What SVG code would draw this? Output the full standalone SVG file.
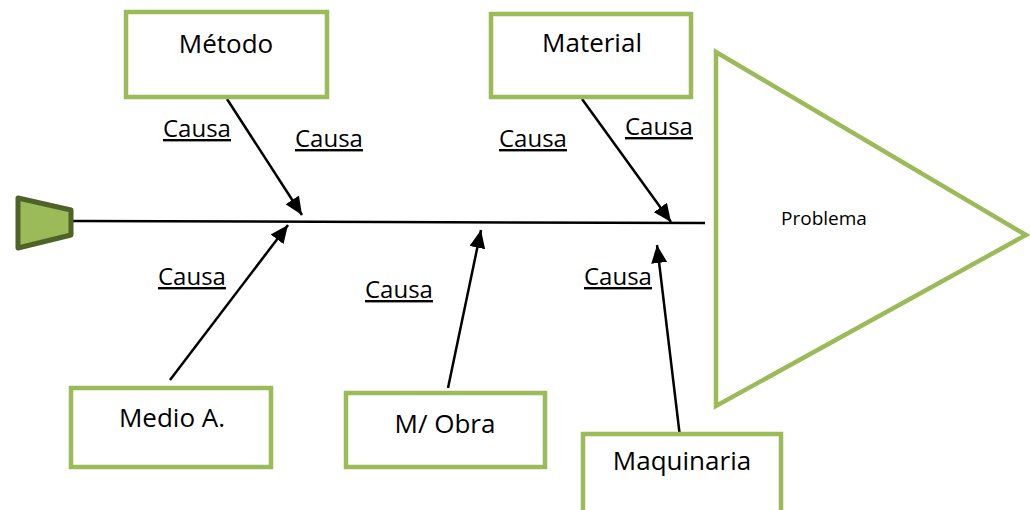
<svg xmlns="http://www.w3.org/2000/svg" width="1030" height="510" viewBox="0 0 1030 510">
<style>
.box{fill:#fff;stroke:#9BBB59;stroke-width:4.5}
.lbl{font-family:"Open Sans","Liberation Sans",sans-serif;font-size:26px;fill:#000;text-anchor:middle}
.causa{font-family:"Open Sans","Liberation Sans",sans-serif;font-size:24px;fill:#000;text-decoration:underline}
.arr{stroke:#000;stroke-width:2.5;fill:none;marker-end:url(#ah)}
</style>
<defs>
<marker id="ah" markerUnits="userSpaceOnUse" markerWidth="18" markerHeight="16" viewBox="0 0 18 16" refX="18" refY="8" orient="auto">
<path d="M0,0 L18,8 L0,16 Z" fill="#000"/>
</marker>
</defs>
<g id="connectors">
<line x1="73" y1="221" x2="705" y2="223" stroke="#000" stroke-width="2.5"/>
<line class="arr" x1="227" y1="99" x2="302" y2="215"/>
<line class="arr" x1="582" y1="99" x2="671" y2="222"/>
<line class="arr" x1="170" y1="380" x2="288" y2="225"/>
<line class="arr" x1="448" y1="388" x2="481" y2="230"/>
<line class="arr" x1="680" y1="437" x2="657" y2="245"/>
</g>
<g id="cola">
<polygon points="18,198 71,210 71,235 18,248" fill="#9BBB59" stroke="#4F6228" stroke-width="5" stroke-linejoin="round"/>
</g>
<g id="problema">
<polygon points="716,52 1026,235 716,406" fill="#fff" stroke="#9BBB59" stroke-width="4.5"/>
<text x="824" y="225" font-family="'Open Sans','Liberation Sans',sans-serif" font-size="19" text-anchor="middle">Problema</text>
</g>
<g id="metodo">
<rect class="box" x="126" y="12" width="201" height="85"/>
<text class="lbl" x="226" y="53">Método</text>
</g>
<g id="material">
<rect class="box" x="491" y="14" width="200" height="83"/>
<text class="lbl" x="592" y="52">Material</text>
</g>
<g id="medio">
<rect class="box" x="71" y="388" width="200" height="79"/>
<text class="lbl" x="172" y="427">Medio A.</text>
</g>
<g id="mobra">
<rect class="box" x="346" y="393" width="199" height="74"/>
<text class="lbl" x="445" y="433">M/ Obra</text>
</g>
<g id="maquinaria">
<rect class="box" x="583" y="434" width="198" height="90"/>
<text class="lbl" x="682" y="470">Maquinaria</text>
</g>
<g id="causas">
<text class="causa" x="163" y="137">Causa</text>
<text class="causa" x="295" y="147">Causa</text>
<text class="causa" x="499" y="147">Causa</text>
<text class="causa" x="625" y="135">Causa</text>
<text class="causa" x="158" y="285">Causa</text>
<text class="causa" x="365" y="298">Causa</text>
<text class="causa" x="584" y="285">Causa</text>
</g>
</svg>
